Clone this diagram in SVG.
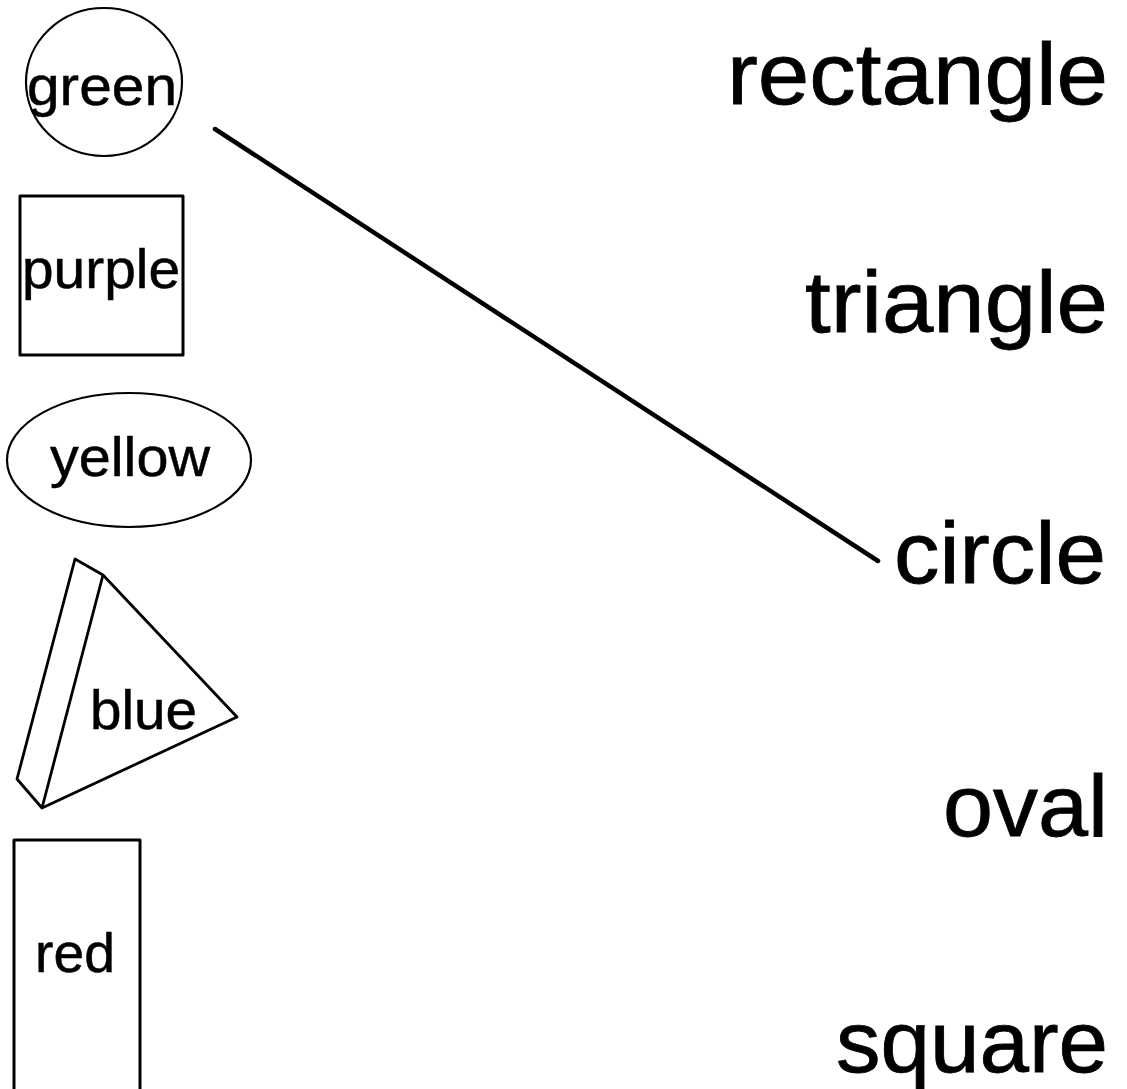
<svg xmlns="http://www.w3.org/2000/svg" width="1127" height="1089" viewBox="0 0 1127 1089">
<style>
  .shape { fill: none; stroke: #000; stroke-linejoin: round; }
  .small { font-family: "Liberation Sans", Arial, sans-serif; font-size: 55px; fill: #000; stroke: #000; stroke-width: 0.5; }
  .big { font-family: "Liberation Sans", Arial, sans-serif; font-size: 87px; fill: #000; stroke: #000; stroke-width: 0.8; text-anchor: end; }
  .conn { stroke: #000; stroke-width: 4.5; stroke-linecap: round; fill: none; }
</style>
<rect width="1127" height="1089" fill="#fff"/>
<g id="node-green">
  <ellipse class="shape" cx="104" cy="82" rx="78" ry="74" stroke-width="2.2"/>
  <text class="small" x="27" y="105" textLength="150" lengthAdjust="spacingAndGlyphs">green</text>
</g>
<g id="node-purple">
  <rect class="shape" x="20" y="196" width="163" height="159" stroke-width="3"/>
  <text class="small" x="22" y="288" textLength="158" lengthAdjust="spacingAndGlyphs">purple</text>
</g>
<g id="node-yellow">
  <ellipse class="shape" cx="129" cy="460" rx="122" ry="67" stroke-width="2.2"/>
  <text class="small" x="50" y="476" textLength="160" lengthAdjust="spacingAndGlyphs">yellow</text>
</g>
<g id="node-blue">
  <polygon class="shape" points="75,559 103,575 237,717 42,808 17,779" stroke-width="2.8"/>
  <line class="shape" x1="103" y1="575" x2="42" y2="808" stroke-width="2.8"/>
  <text class="small" x="90" y="729" textLength="107" lengthAdjust="spacingAndGlyphs">blue</text>
</g>
<g id="node-red">
  <rect class="shape" x="14" y="840" width="126" height="260" stroke-width="3"/>
  <text class="small" x="35" y="972" textLength="80" lengthAdjust="spacingAndGlyphs">red</text>
</g>
<g id="node-rectangle">
  <text class="big" x="1108" y="104" textLength="381" lengthAdjust="spacingAndGlyphs">rectangle</text>
</g>
<g id="node-triangle">
  <text class="big" x="1108" y="332" textLength="303" lengthAdjust="spacingAndGlyphs">triangle</text>
</g>
<g id="node-circle">
  <text class="big" x="1106" y="583" textLength="212" lengthAdjust="spacingAndGlyphs">circle</text>
</g>
<g id="node-oval">
  <text class="big" x="1108" y="836" textLength="165" lengthAdjust="spacingAndGlyphs">oval</text>
</g>
<g id="node-square">
  <text class="big" x="1108" y="1072" textLength="272" lengthAdjust="spacingAndGlyphs">square</text>
</g>
<g id="connectors">
  <line class="conn" x1="215" y1="129" x2="878" y2="561"/>
</g>
</svg>
